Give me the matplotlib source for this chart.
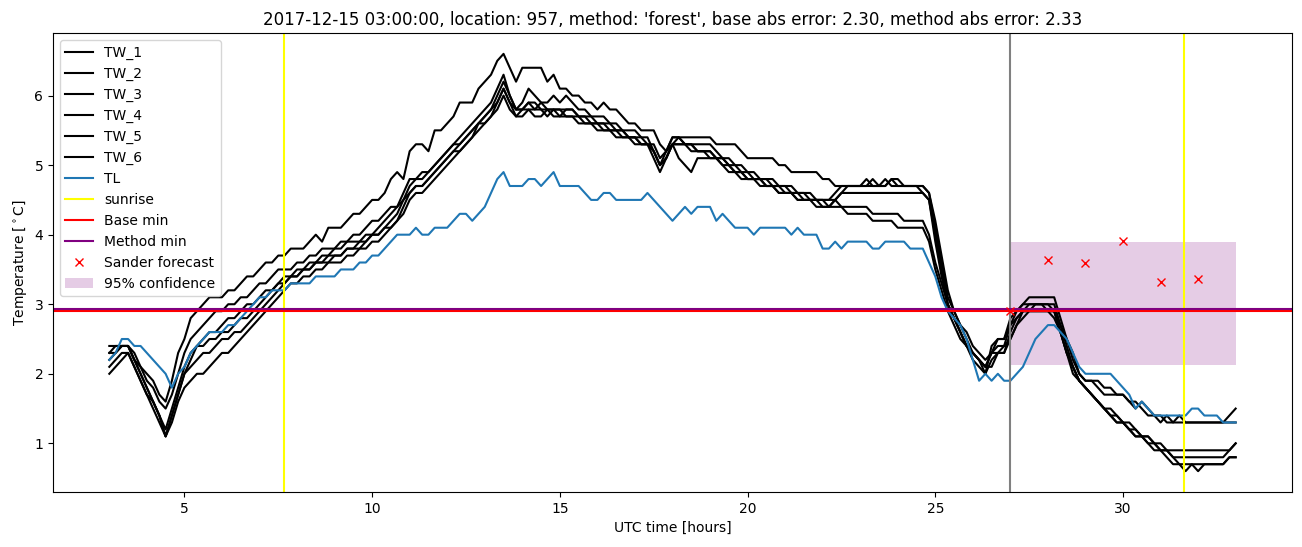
import numpy as np
import pandas as pd
import matplotlib
matplotlib.use("Agg")
import matplotlib.pyplot as plt

# ---------------- data ----------------
times = pd.date_range("2017-12-15 03:00", periods=181, freq="10min")
hours = ((times - pd.Timestamp("2017-12-15")) / pd.Timedelta(hours=1)).to_numpy()

TL = [
    2.2, 2.3, 2.5, 2.5, 2.4, 2.4,
    2.3, 2.2, 2.1, 2.0, 1.8, 2.0,
    2.1, 2.3, 2.4, 2.5, 2.6, 2.6,
    2.6, 2.7, 2.7, 2.8, 2.9, 3.0,
    3.1, 3.1, 3.2, 3.2, 3.2, 3.3,
    3.3, 3.3, 3.3, 3.4, 3.4, 3.4,
    3.4, 3.5, 3.5, 3.5, 3.6, 3.6,
    3.7, 3.7, 3.8, 3.9, 4.0, 4.0,
    4.0, 4.1, 4.0, 4.0, 4.1, 4.1,
    4.1, 4.2, 4.3, 4.3, 4.2, 4.3,
    4.4, 4.6, 4.8, 4.9, 4.7, 4.7,
    4.7, 4.8, 4.8, 4.7, 4.8, 4.9,
    4.7, 4.7, 4.7, 4.7, 4.6, 4.5,
    4.5, 4.6, 4.6, 4.5, 4.5, 4.5,
    4.5, 4.5, 4.6, 4.5, 4.4, 4.3,
    4.2, 4.3, 4.4, 4.3, 4.4, 4.4,
    4.4, 4.2, 4.3, 4.2, 4.1, 4.1,
    4.1, 4.0, 4.1, 4.1, 4.1, 4.1,
    4.1, 4.0, 4.1, 4.0, 4.0, 4.0,
    3.8, 3.8, 3.9, 3.8, 3.9, 3.9,
    3.9, 3.9, 3.8, 3.8, 3.9, 3.9,
    3.9, 3.9, 3.8, 3.8, 3.8, 3.6,
    3.4, 3.1, 2.9, 2.8, 2.7, 2.5,
    2.2, 1.9, 2.0, 1.9, 2.0, 1.9,
    1.9, 2.0, 2.1, 2.3, 2.5, 2.6,
    2.7, 2.7, 2.6, 2.5, 2.3, 2.1,
    2.0, 2.0, 2.0, 2.0, 2.0, 1.9,
    1.8, 1.7, 1.5, 1.6, 1.5, 1.4,
    1.4, 1.4, 1.4, 1.4, 1.4, 1.5,
    1.5, 1.4, 1.4, 1.4, 1.3, 1.3,
    1.3,
]

TW_1 = [
    2.3, 2.4, 2.4, 2.4, 2.3, 2.1,
    2.0, 1.9, 1.7, 1.6, 1.9, 2.3,
    2.5, 2.8, 2.9, 3.0, 3.1, 3.1,
    3.1, 3.2, 3.2, 3.3, 3.4, 3.4,
    3.5, 3.6, 3.6, 3.7, 3.7, 3.8,
    3.8, 3.8, 3.9, 4.0, 3.9, 4.1,
    4.1, 4.1, 4.2, 4.3, 4.3, 4.4,
    4.5, 4.5, 4.6, 4.8, 4.9, 4.8,
    5.2, 5.3, 5.3, 5.2, 5.5, 5.5,
    5.6, 5.7, 5.9, 5.9, 5.9, 6.1,
    6.2, 6.3, 6.5, 6.6, 6.4, 6.2,
    6.4, 6.4, 6.4, 6.4, 6.2, 6.3,
    6.1, 6.1, 6.0, 6.0, 5.9, 5.9,
    5.8, 5.9, 5.8, 5.8, 5.7, 5.6,
    5.6, 5.5, 5.5, 5.5, 5.3, 5.2,
    5.4, 5.4, 5.4, 5.4, 5.4, 5.4,
    5.4, 5.3, 5.3, 5.3, 5.3, 5.2,
    5.1, 5.1, 5.1, 5.1, 5.1, 5.0,
    5.0, 4.9, 4.9, 4.9, 4.9, 4.9,
    4.8, 4.8, 4.7, 4.7, 4.7, 4.7,
    4.7, 4.7, 4.8, 4.7, 4.7, 4.8,
    4.7, 4.7, 4.7, 4.7, 4.6, 4.5,
    3.9, 3.4, 3.0, 2.8, 2.6, 2.4,
    2.3, 2.2, 2.1, 2.3, 2.5, 2.5,
    2.7, 2.9, 3.0, 3.1, 3.1, 3.1,
    3.1, 3.1, 2.8, 2.5, 2.3, 2.0,
    1.9, 1.9, 1.8, 1.7, 1.7, 1.7,
    1.7, 1.6, 1.5, 1.6, 1.5, 1.4,
    1.4, 1.3, 1.3, 1.3, 1.3, 1.3,
    1.3, 1.3, 1.3, 1.3, 1.3, 1.4,
    1.5,
]

TW_2 = [
    2.4, 2.4, 2.4, 2.4, 2.2, 2.1,
    1.9, 1.8, 1.6, 1.5, 1.7, 2.0,
    2.3, 2.5, 2.6, 2.7, 2.8, 2.9,
    2.9, 3.0, 3.0, 3.1, 3.1, 3.2,
    3.3, 3.3, 3.4, 3.5, 3.5, 3.5,
    3.6, 3.6, 3.7, 3.7, 3.8, 3.8,
    3.8, 3.9, 3.9, 4.0, 4.0, 4.1,
    4.2, 4.2, 4.3, 4.4, 4.4, 4.5,
    4.7, 4.8, 4.8, 4.9, 5.0, 5.1,
    5.2, 5.3, 5.4, 5.5, 5.6, 5.7,
    5.8, 5.9, 6.1, 6.3, 6.0, 5.8,
    5.9, 6.1, 6.0, 5.9, 5.9, 6.0,
    5.9, 6.0, 5.9, 5.8, 5.8, 5.7,
    5.7, 5.7, 5.6, 5.6, 5.5, 5.5,
    5.5, 5.4, 5.4, 5.2, 5.0, 5.2,
    5.4, 5.4, 5.3, 5.3, 5.3, 5.3,
    5.3, 5.2, 5.1, 5.1, 5.0, 5.0,
    4.9, 4.9, 4.8, 4.8, 4.8, 4.7,
    4.7, 4.7, 4.6, 4.6, 4.6, 4.5,
    4.5, 4.5, 4.6, 4.7, 4.7, 4.7,
    4.7, 4.8, 4.7, 4.7, 4.7, 4.8,
    4.8, 4.7, 4.7, 4.7, 4.7, 4.6,
    4.1, 3.6, 3.1, 2.9, 2.7, 2.5,
    2.3, 2.2, 2.0, 2.4, 2.5, 2.5,
    2.8, 2.9, 3.0, 3.0, 3.0, 3.0,
    3.0, 3.0, 2.7, 2.4, 2.1, 1.9,
    1.8, 1.7, 1.6, 1.5, 1.4, 1.4,
    1.3, 1.2, 1.2, 1.1, 1.1, 1.0,
    1.0, 0.9, 0.9, 0.9, 0.9, 0.9,
    0.9, 0.9, 0.9, 0.9, 0.9, 0.9,
    1.0,
]

TW_3 = [
    2.2, 2.3, 2.4, 2.4, 2.2, 2.0,
    1.8, 1.6, 1.4, 1.1, 1.4, 1.7,
    2.0, 2.2, 2.4, 2.5, 2.6, 2.6,
    2.7, 2.8, 2.8, 2.9, 3.0, 3.0,
    3.1, 3.2, 3.2, 3.3, 3.4, 3.4,
    3.5, 3.5, 3.6, 3.6, 3.7, 3.7,
    3.8, 3.8, 3.9, 3.9, 3.9, 4.0,
    4.0, 4.1, 4.2, 4.3, 4.4, 4.6,
    4.8, 4.8, 4.9, 4.9, 5.0, 5.1,
    5.2, 5.3, 5.3, 5.4, 5.5, 5.6,
    5.7, 5.8, 6.0, 6.2, 6.0, 5.8,
    5.8, 5.9, 5.8, 5.8, 5.8, 5.8,
    5.8, 5.8, 5.8, 5.7, 5.7, 5.7,
    5.6, 5.6, 5.6, 5.5, 5.5, 5.4,
    5.4, 5.4, 5.3, 5.1, 4.9, 5.1,
    5.3, 5.3, 5.3, 5.3, 5.2, 5.2,
    5.2, 5.1, 5.1, 5.0, 5.0, 4.9,
    4.9, 4.8, 4.8, 4.8, 4.7, 4.7,
    4.7, 4.6, 4.6, 4.6, 4.5, 4.5,
    4.4, 4.4, 4.5, 4.6, 4.6, 4.6,
    4.6, 4.6, 4.6, 4.6, 4.6, 4.6,
    4.6, 4.6, 4.6, 4.6, 4.6, 4.5,
    4.0, 3.5, 3.0, 2.8, 2.6, 2.4,
    2.2, 2.1, 2.0, 2.2, 2.3, 2.3,
    2.6, 2.8, 2.9, 2.9, 3.0, 3.0,
    3.0, 2.9, 2.6, 2.3, 2.1, 1.9,
    1.8, 1.7, 1.6, 1.5, 1.4, 1.3,
    1.3, 1.2, 1.1, 1.1, 1.0, 0.9,
    0.9, 0.8, 0.7, 0.7, 0.6, 0.7,
    0.6, 0.7, 0.7, 0.7, 0.7, 0.8,
    0.8,
]

TW_4 = [
    2.1, 2.2, 2.3, 2.3, 2.1, 1.9,
    1.7, 1.6, 1.4, 1.2, 1.5, 1.8,
    2.1, 2.3, 2.4, 2.4, 2.5, 2.5,
    2.6, 2.6, 2.7, 2.8, 2.8, 2.9,
    3.0, 3.1, 3.2, 3.3, 3.3, 3.4,
    3.4, 3.5, 3.5, 3.6, 3.6, 3.7,
    3.7, 3.7, 3.8, 3.8, 3.9, 3.9,
    4.0, 4.0, 4.1, 4.2, 4.3, 4.5,
    4.6, 4.7, 4.7, 4.8, 4.9, 5.0,
    5.1, 5.2, 5.3, 5.4, 5.5, 5.6,
    5.6, 5.7, 5.9, 6.1, 5.9, 5.7,
    5.7, 5.8, 5.7, 5.7, 5.8, 5.7,
    5.7, 5.7, 5.7, 5.7, 5.6, 5.6,
    5.6, 5.5, 5.5, 5.5, 5.4, 5.4,
    5.4, 5.3, 5.3, 5.3, 5.1, 5.2,
    5.3, 5.1, 5.0, 4.9, 5.1, 5.1,
    5.1, 5.1, 5.0, 5.0, 4.9, 4.9,
    4.8, 4.8, 4.8, 4.7, 4.7, 4.7,
    4.6, 4.6, 4.6, 4.5, 4.5, 4.5,
    4.5, 4.4, 4.5, 4.6, 4.7, 4.7,
    4.7, 4.7, 4.7, 4.7, 4.8, 4.7,
    4.7, 4.7, 4.7, 4.7, 4.7, 4.6,
    4.2, 3.7, 3.2, 2.9, 2.7, 2.6,
    2.4, 2.3, 2.2, 2.3, 2.4, 2.4,
    2.7, 2.8, 2.9, 3.0, 3.0, 3.0,
    2.9, 2.9, 2.7, 2.5, 2.2, 2.0,
    1.9, 1.9, 1.9, 1.8, 1.8, 1.7,
    1.7, 1.6, 1.6, 1.5, 1.4, 1.4,
    1.3, 1.4, 1.3, 1.4, 1.3, 1.3,
    1.3, 1.3, 1.3, 1.3, 1.3, 1.3,
    1.3,
]

TW_5 = [
    2.0, 2.1, 2.2, 2.3, 2.1, 1.9,
    1.7, 1.5, 1.3, 1.1, 1.3, 1.6,
    1.8, 1.9, 2.0, 2.0, 2.1, 2.2,
    2.3, 2.3, 2.4, 2.5, 2.6, 2.7,
    2.8, 2.9, 3.0, 3.1, 3.2, 3.3,
    3.3, 3.4, 3.4, 3.5, 3.5, 3.6,
    3.6, 3.6, 3.7, 3.7, 3.8, 3.8,
    3.9, 3.9, 4.0, 4.1, 4.2, 4.3,
    4.5, 4.6, 4.6, 4.7, 4.8, 4.9,
    5.0, 5.1, 5.2, 5.3, 5.4, 5.5,
    5.6, 5.7, 5.8, 6.0, 5.8, 5.7,
    5.8, 5.9, 5.9, 5.8, 5.7, 5.8,
    5.8, 5.7, 5.7, 5.6, 5.6, 5.6,
    5.5, 5.5, 5.5, 5.4, 5.4, 5.4,
    5.3, 5.3, 5.3, 5.2, 5.0, 5.1,
    5.3, 5.4, 5.3, 5.3, 5.2, 5.2,
    5.1, 5.1, 5.0, 4.9, 4.9, 4.8,
    4.8, 4.8, 4.7, 4.7, 4.7, 4.6,
    4.6, 4.6, 4.5, 4.5, 4.5, 4.5,
    4.5, 4.5, 4.5, 4.4, 4.4, 4.4,
    4.4, 4.4, 4.3, 4.3, 4.3, 4.3,
    4.3, 4.2, 4.2, 4.2, 4.2, 4.0,
    3.6, 3.3, 3.0, 2.8, 2.6, 2.4,
    2.3, 2.2, 2.1, 2.3, 2.3, 2.4,
    2.5, 2.7, 2.9, 2.9, 2.9, 2.9,
    2.9, 2.9, 2.6, 2.3, 2.0, 1.9,
    1.8, 1.7, 1.6, 1.5, 1.4, 1.3,
    1.3, 1.2, 1.1, 1.1, 1.0, 1.0,
    0.9, 0.9, 0.8, 0.8, 0.8, 0.8,
    0.8, 0.8, 0.8, 0.8, 0.8, 0.9,
    1.0,
]

TW_6 = [
    2.3, 2.3, 2.4, 2.4, 2.2, 2.0,
    1.8, 1.6, 1.4, 1.1, 1.4, 1.7,
    2.0, 2.1, 2.2, 2.3, 2.3, 2.4,
    2.5, 2.5, 2.6, 2.6, 2.7, 2.8,
    2.9, 3.0, 3.1, 3.2, 3.3, 3.4,
    3.4, 3.5, 3.5, 3.6, 3.6, 3.6,
    3.7, 3.7, 3.8, 3.8, 3.8, 3.9,
    4.0, 4.0, 4.1, 4.1, 4.2, 4.4,
    4.6, 4.7, 4.7, 4.8, 4.9, 5.0,
    5.1, 5.2, 5.2, 5.3, 5.4, 5.6,
    5.7, 5.8, 5.9, 6.1, 5.9, 5.8,
    5.8, 5.8, 5.8, 5.9, 5.8, 5.8,
    5.7, 5.8, 5.8, 5.7, 5.7, 5.6,
    5.6, 5.6, 5.5, 5.5, 5.5, 5.4,
    5.4, 5.3, 5.3, 5.2, 5.0, 5.1,
    5.3, 5.3, 5.3, 5.2, 5.2, 5.2,
    5.2, 5.1, 5.1, 5.0, 4.9, 4.9,
    4.8, 4.8, 4.8, 4.7, 4.7, 4.6,
    4.6, 4.6, 4.5, 4.5, 4.5, 4.4,
    4.4, 4.4, 4.4, 4.4, 4.3, 4.3,
    4.3, 4.3, 4.2, 4.2, 4.2, 4.2,
    4.1, 4.1, 4.1, 4.1, 4.1, 3.9,
    3.5, 3.2, 2.9, 2.7, 2.5, 2.4,
    2.3, 2.2, 2.1, 2.1, 2.3, 2.3,
    2.5, 2.7, 2.8, 2.9, 2.9, 2.9,
    2.9, 2.8, 2.6, 2.3, 2.1, 1.9,
    1.8, 1.7, 1.6, 1.5, 1.5, 1.4,
    1.3, 1.3, 1.2, 1.1, 1.1, 1.0,
    0.9, 0.9, 0.8, 0.7, 0.7, 0.7,
    0.7, 0.7, 0.7, 0.7, 0.7, 0.8,
    0.8,
]

tw_series = [TW_1, TW_2, TW_3, TW_4, TW_5, TW_6]
tw_labels = ["TW_1", "TW_2", "TW_3", "TW_4", "TW_5", "TW_6"]

sunrise_hours = [7.65, 31.63]
forecast_start = 27.0
base_min = 2.90
method_min = 2.93

forecast_hours = [27, 28, 29, 30, 31, 32]
sander_forecast = [2.90, 3.64, 3.60, 3.91, 3.32, 3.36]

conf_hours = [27, 33]
conf_lower = [2.12, 2.12]
conf_upper = [3.90, 3.90]

title = ("2017-12-15 03:00:00, location: 957, method: 'forest', "
         "base abs error: 2.30, method abs error: 2.33")

# ---------------- plot ----------------
fig, ax = plt.subplots(figsize=(13.02, 5.47), dpi=100)
fig.subplots_adjust(left=0.0407, right=0.9923, top=0.9397, bottom=0.1005)

for vals, lab in zip(tw_series, tw_labels):
    ax.plot(hours, vals, color="black", label=lab)
ax.plot(hours, TL, color="C0", label="TL")

for i, sr in enumerate(sunrise_hours):
    ax.axvline(sr, color="yellow", label="sunrise" if i == 0 else None)
ax.axvline(forecast_start, color="gray")

ax.axhline(base_min, color="red", label="Base min")
ax.axhline(method_min, color="purple", label="Method min")

ax.plot(forecast_hours, sander_forecast, "rx", label="Sander forecast")
ax.fill_between(conf_hours, conf_lower, conf_upper, color="purple",
                alpha=0.2, linewidth=0, label="95% confidence")

ax.set_title(title)
ax.set_xlabel("UTC time [hours]")
ax.set_ylabel("Temperature [$^\\circ$C]")
ax.legend(loc="upper left")

fig.savefig("out.png", dpi=100)
